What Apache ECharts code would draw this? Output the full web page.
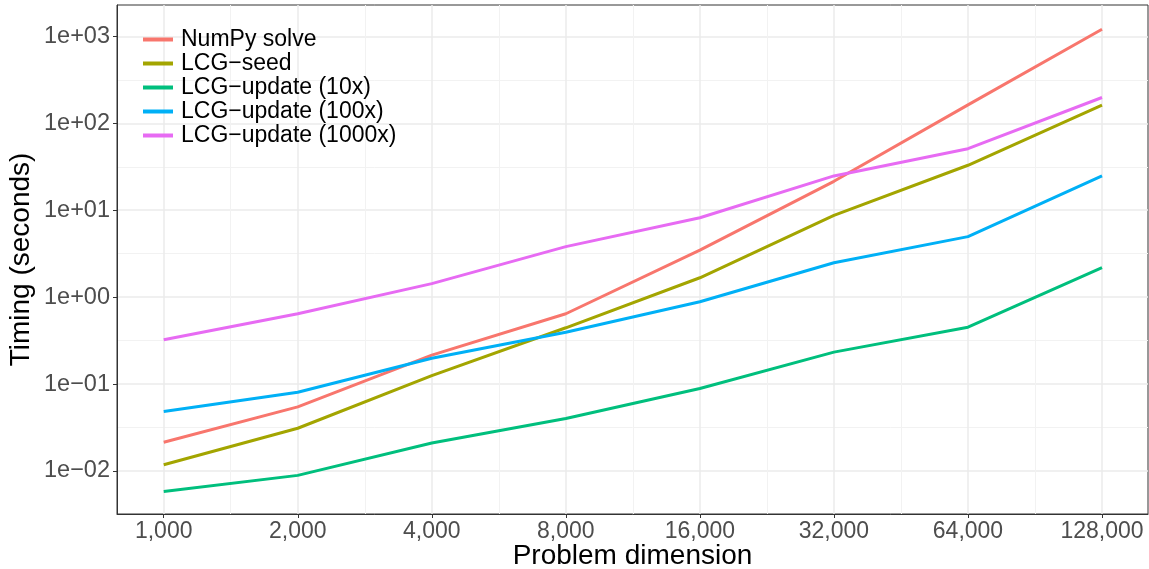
<!DOCTYPE html>
<html>
<head>
<meta charset="utf-8">
<script src="https://cdn.jsdelivr.net/npm/echarts@6/dist/echarts.min.js"></script>
<style>
  html, body { margin: 0; padding: 0; background: #fff; }
  #chart { width: 1149px; height: 569px; }
</style>
</head>
<body>
<div id="chart"></div>
<script>
// problem sizes (x) and timings in seconds (y)
const sizes = [1000, 2000, 4000, 8000, 16000, 32000, 64000, 128000];
const numpySolve = [0.0214, 0.0546, 0.215, 0.644, 3.48, 21.5, 163, 1210];
const lcgSeed = [0.0118, 0.031, 0.125, 0.444, 1.67, 8.73, 32.9, 162];
const lcgUpdate10 = [0.00582, 0.0089, 0.021, 0.0401, 0.0888, 0.233, 0.451, 2.18];
const lcgUpdate100 = [0.0482, 0.0805, 0.198, 0.395, 0.885, 2.49, 4.97, 24.8];
const lcgUpdate1000 = [0.323, 0.644, 1.43, 3.81, 8.2, 24.8, 51, 198];

const seriesNames = ['NumPy solve', 'LCG\u2212seed', 'LCG\u2212update (10x)', 'LCG\u2212update (100x)', 'LCG\u2212update (1000x)'];
const seriesValues = [numpySolve, lcgSeed, lcgUpdate10, lcgUpdate100, lcgUpdate1000];

// axis breaks (raw units)
const xTicks = [1000, 2000, 4000, 8000, 16000, 32000, 64000, 128000];
const xMinorTicks = [1414, 2828, 5657, 11314, 22627, 45255, 90510];
const yTicks = [0.01, 0.1, 1, 10, 100, 1000];
const yMinorTicks = [0.0316, 0.316, 3.16, 31.6, 316];

// log transforms, like ggplot's log2 / log10 scales
const tx = v => Math.log2(v / 1000);
const ty = v => Math.log10(v);

const X_MIN = -0.3485, X_MAX = 7.343;
const Y_MIN = -2.495, Y_MAX = 3.361;

const COLORS = ['#F8766D', '#A3A500', '#00BF7D', '#00B0F6', '#E76BF3'];
const FONT = '"Liberation Sans", Arial, sans-serif';

function yLabel(v) {
    const e = Math.round(v);
    const sign = e < 0 ? '\u2212' : '+';
    const a = Math.abs(e);
    return '1e' + sign + (a < 10 ? '0' + a : a);
}
function xLabel(v) {
    return Math.round(1000 * Math.pow(2, v)).toLocaleString('en-US');
}

const chart = echarts.init(document.getElementById('chart'), null, { renderer: 'canvas' });

const options = {
    animation: false,
    color: COLORS,
    grid: {
        left: 117,
        right: 1,
        top: 5,
        bottom: 55,
        containLabel: false,
        outerBoundsMode: 'none',
        show: true,
        borderColor: '#333333',
        borderWidth: 1,
        backgroundColor: 'transparent'
    },
    legend: {
        orient: 'vertical',
        left: 138,
        top: 23,
        itemWidth: 30,
        itemHeight: 4,
        itemGap: 1,
        icon: 'rect',
        textStyle: {
            fontFamily: FONT,
            fontSize: 23,
            lineHeight: 23,
            color: '#000',
            padding: [0, 0, 0, 3]
        },
        data: seriesNames
    },
    xAxis: [
        {
            type: 'value',
            min: X_MIN,
            max: X_MAX,
            name: 'Problem dimension',
            nameLocation: 'middle',
            nameGap: 28,
            nameMoveOverlap: false,
            nameTextStyle: { fontFamily: FONT, fontSize: 28, color: '#000', verticalAlign: 'top' },
            axisLine: { show: true, onZero: false, lineStyle: { color: '#333333', width: 1 } },
            axisTick: { show: true, length: 4, lineStyle: { color: '#333333', width: 1 }, customValues: xTicks.map(tx) },
            axisLabel: { customValues: xTicks.map(tx), formatter: xLabel, fontFamily: FONT, fontSize: 23, color: '#4D4D4D', margin: 6 },
            splitLine: { show: true, lineStyle: { color: '#EBEBEB', width: 1.5 } }
        },
        {
            // minor grid
            type: 'value',
            min: X_MIN,
            max: X_MAX,
            z: 0,
            axisLine: { show: false },
            axisTick: { show: false, customValues: xMinorTicks.map(tx) },
            axisLabel: { show: false, customValues: xMinorTicks.map(tx) },
            splitLine: { show: true, lineStyle: { color: '#F2F2F2', width: 1 } }
        }
    ],
    yAxis: [
        {
            type: 'value',
            min: Y_MIN,
            max: Y_MAX,
            name: 'Timing (seconds)',
            nameLocation: 'middle',
            nameGap: 82,
            nameMoveOverlap: false,
            nameTextStyle: { fontFamily: FONT, fontSize: 28, color: '#000' },
            axisLine: { show: true, onZero: false, lineStyle: { color: '#333333', width: 1 } },
            axisTick: { show: true, length: 4, lineStyle: { color: '#333333', width: 1 }, customValues: yTicks.map(ty) },
            axisLabel: { customValues: yTicks.map(ty), formatter: yLabel, fontFamily: FONT, fontSize: 23.5, color: '#4D4D4D', margin: 7 },
            splitLine: { show: true, lineStyle: { color: '#EBEBEB', width: 1.5 } }
        },
        {
            // minor grid
            type: 'value',
            min: Y_MIN,
            max: Y_MAX,
            z: 0,
            axisLine: { show: false },
            axisTick: { show: false, customValues: yMinorTicks.map(ty) },
            axisLabel: { show: false, customValues: yMinorTicks.map(ty) },
            splitLine: { show: true, lineStyle: { color: '#F2F2F2', width: 1 } }
        }
    ],
    series: []
};

for (let i = 0; i < seriesNames.length; i++) {
    options.series.push({
        name: seriesNames[i],
        type: 'line',
        xAxisIndex: 0,
        yAxisIndex: 0,
        showSymbol: false,
        symbol: 'none',
        z: 10,
        lineStyle: { width: 3, color: COLORS[i] },
        itemStyle: { color: COLORS[i] },
        data: sizes.map((s, j) => [tx(s), ty(seriesValues[i][j])])
    });
}

chart.setOption(options, true);
</script>
</body>
</html>
